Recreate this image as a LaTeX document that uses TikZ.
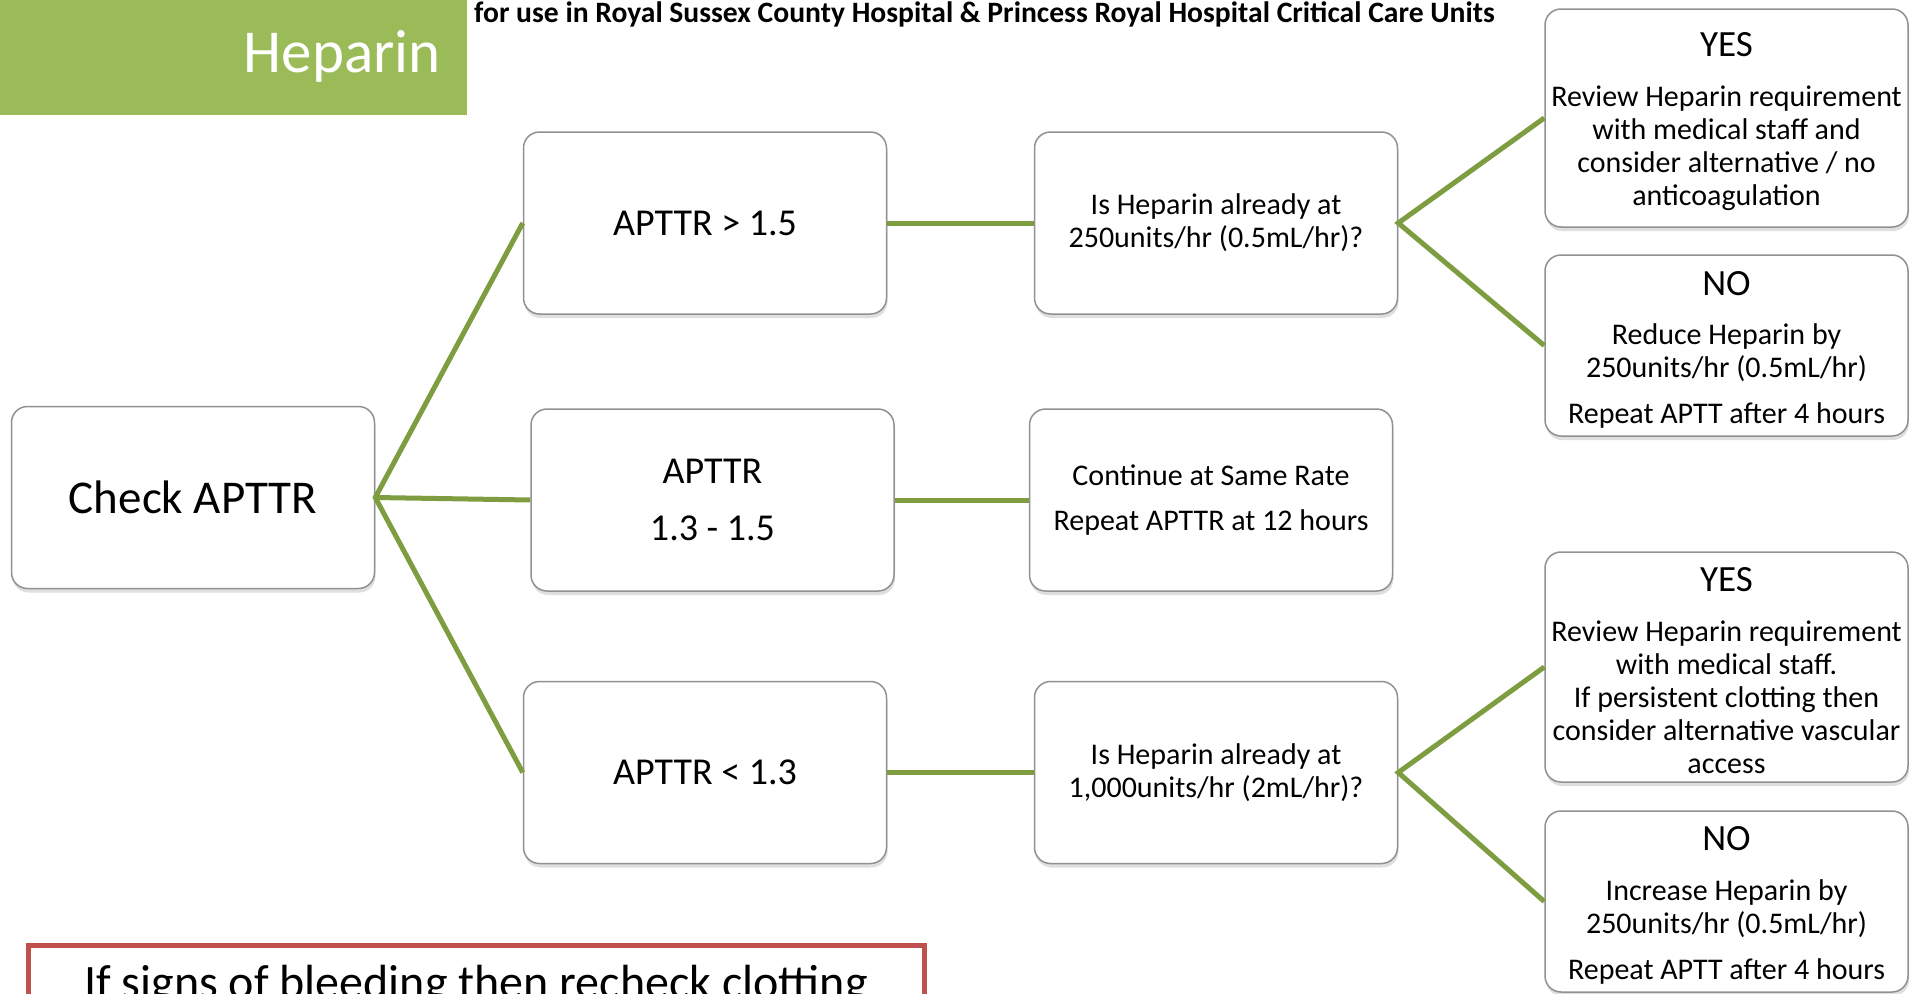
\documentclass[tikz,border=0pt]{standalone}
\usepackage{fontspec}
\setmainfont{Carlito}
\usetikzlibrary{shadows}

\definecolor{hepgreen}{RGB}{155,187,89}
\definecolor{linkgreen}{RGB}{125,157,64}
\definecolor{alertred}{RGB}{192,80,77}
\definecolor{boxgray}{RGB}{145,145,145}

\newcommand\answer[1]{{\fontsize{37}{44}\selectfont\rule{0pt}{32pt}#1}}

\begin{document}
\begin{tikzpicture}[x=1pt,y=-1pt,
  box/.style={draw=boxgray, line width=1.5pt, rounded corners=16pt, fill=white,
    drop shadow={shadow xshift=1pt, shadow yshift=-4pt, opacity=0.25},
    minimum width=363pt, minimum height=182pt, inner sep=0pt, align=center,
    font=\fontsize{30}{33}\selectfont},
  link/.style={draw=linkgreen, line width=5pt, line join=miter}]

\useasboundingbox (0,0) rectangle (1916,993);
\clip (0,0) rectangle (1916,993);

% header
\fill[hepgreen] (0,0) rectangle (467,115);
\node[anchor=base east, inner sep=0pt, text=white, font=\fontsize{61}{70}\selectfont]
  (hep) at (441,72) {Heparin};
\node[anchor=base west, inner sep=0pt, font=\bfseries\fontsize{29.6}{34}\selectfont]
  (title) at (474,23) {for use in Royal Sussex County Hospital \& Princess Royal Hospital Critical Care Units};

% first column
\node[box, font=\fontsize{47}{56}\selectfont] (chk) at (193,497.5) {Check APTTR};

% APTTR ranges
\node[box, font=\fontsize{38}{45}\selectfont] (hi)  at (705,223)   {APTTR > 1.5};
\node[box, font=\fontsize{38}{45}\selectfont] (mid) at (712.5,500) {APTTR\\[12pt] 1.3 - 1.5};
\node[box, font=\fontsize{38}{45}\selectfont] (lo)  at (705,772.5) {APTTR < 1.3};

% questions
\node[box] (hiq)  at (1216,223)   {Is Heparin already at\\ 250units/hr (0.5mL/hr)?};
\node[box] (same) at (1211,500)   {Continue at Same Rate\\[12pt] Repeat APTTR at 12 hours};
\node[box] (loq)  at (1216,772.5) {Is Heparin already at\\ 1,000units/hr (2mL/hr)?};

% answers
\node[box, minimum height=218pt] (hiyes) at (1726.5,118)
  {\answer{YES}\\[17pt] Review Heparin requirement\\ with medical staff and\\ consider alternative / no\\ anticoagulation};
\node[box, minimum height=181pt] (hino) at (1726.5,345.5)
  {\answer{NO}\\[16pt] Reduce Heparin by\\ 250units/hr (0.5mL/hr)\\[13pt] Repeat APTT after 4 hours};
\node[box, minimum height=230pt] (loyes) at (1726.5,667)
  {\answer{YES}\\[17pt] Review Heparin requirement\\ with medical staff.\\ If persistent clotting then\\ consider alternative vascular\\ access};
\node[box, minimum height=181pt] (lono) at (1726.5,901.5)
  {\answer{NO}\\[17pt] Increase Heparin by\\ 250units/hr (0.5mL/hr)\\[13pt] Repeat APTT after 4 hours};

% warning
\node[draw=alertred, line width=5pt, anchor=north, minimum width=896pt,
  inner xsep=0pt, inner ysep=21pt, text height=32pt, text depth=12pt,
  font=\fontsize{48}{58}\selectfont] (bleed) at (476,943)
  {If signs of bleeding then recheck clotting};

% links
\draw[link] (hi.west) -- (chk.east) -- (lo.west);
\draw[link] (chk.east) -- (mid.west);
\draw[link] (hi.east) -- (hiq.west);
\draw[link] (mid.east) -- (same.west);
\draw[link] (lo.east) -- (loq.west);
\draw[link] (hiyes.west) -- (hiq.east) -- (hino.west);
\draw[link] (loyes.west) -- (loq.east) -- (lono.west);
\end{tikzpicture}
\end{document}
